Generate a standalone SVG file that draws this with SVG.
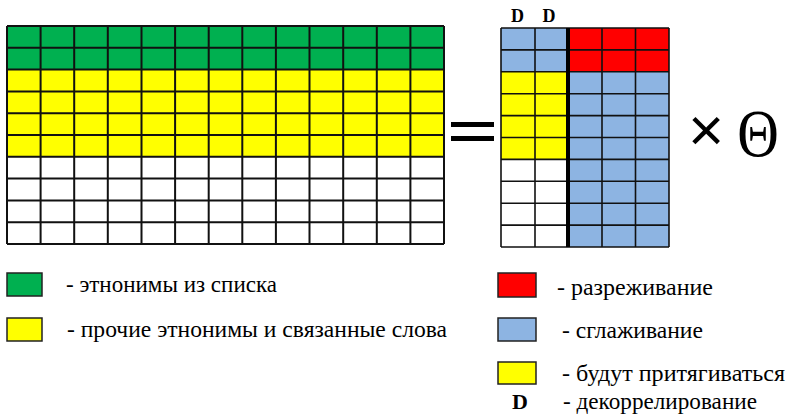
<svg xmlns="http://www.w3.org/2000/svg" width="791" height="418" viewBox="0 0 791 418">
<style>
.grid{fill:none;stroke:#111;stroke-width:2}
.gridR{fill:none;stroke:#111;stroke-width:1.6}
.g{fill:#00B050}.y{fill:#FFFF00}.w{fill:#FFFFFF}.b{fill:#8DB4E2}.r{fill:#FF0000}
.box{stroke:#222;stroke-width:1.5}
.lbl{font-family:"Liberation Serif","Times New Roman",serif;font-size:23px;fill:#000}
.D{font-family:"Liberation Serif","Times New Roman",serif;font-weight:bold;fill:#000}
</style>
<rect width="791" height="418" fill="#fff"/>
<g id="left-matrix">
<rect class="g" x="7" y="26" width="437" height="43.6"/>
<rect class="y" x="7" y="69.6" width="437" height="87.2"/>
<rect class="w" x="7" y="156.8" width="437" height="87.2"/>
<path class="grid" d="M7 26H444M7 47.8H444M7 69.6H444M7 91.4H444M7 113.2H444M7 135H444M7 156.8H444M7 178.6H444M7 200.4H444M7 222.2H444M7 244H444
M7 26V244M40.6 26V244M74.2 26V244M107.8 26V244M141.5 26V244M175.1 26V244M208.7 26V244M242.3 26V244M275.9 26V244M309.5 26V244M343.2 26V244M376.8 26V244M410.4 26V244M444 26V244"/>
</g>
<g id="equals">
<rect x="451" y="122" width="43" height="5" fill="#000"/>
<rect x="451" y="136" width="43" height="5" fill="#000"/>
</g>
<g id="d-labels">
<text class="D" x="517.5" y="22" text-anchor="middle" style="font-size:18px">D</text>
<text class="D" x="549" y="22" text-anchor="middle" style="font-size:18px">D</text>
</g>
<g id="right-matrix">
<rect class="b" x="501" y="28" width="67" height="43.8"/>
<rect class="y" x="501" y="71.8" width="67" height="87.6"/>
<rect class="w" x="501" y="159.4" width="67" height="87.6"/>
<rect class="r" x="568" y="28" width="101" height="43.8"/>
<rect class="b" x="568" y="71.8" width="101" height="175.2"/>
<path class="gridR" d="M501 28H669M501 49.9H669M501 71.8H669M501 93.7H669M501 115.6H669M501 137.5H669M501 159.4H669M501 181.3H669M501 203.2H669M501 225.1H669M501 247H669
M501 28V247M535 28V247M602 28V247M635.5 28V247M669 28V247"/>
<rect x="566" y="28" width="4" height="219" fill="#000"/>
</g>
<g id="times-theta">
<text x="706" y="151" text-anchor="middle" style="font-family:'Liberation Sans',Arial,sans-serif;font-size:62px;fill:#000">×</text>
<text x="0" y="0" text-anchor="middle" transform="translate(758 156) scale(0.86 1)" style="font-family:'Liberation Serif','Times New Roman',serif;font-size:67px;fill:#000">Θ</text>
</g>
<g id="legend-green">
<rect class="g box" x="7" y="273" width="35" height="23"/>
<text class="lbl" x="66" y="292" textLength="211" lengthAdjust="spacingAndGlyphs">- этнонимы из списка</text>
</g>
<g id="legend-yellow">
<rect class="y box" x="7" y="318" width="35" height="23"/>
<text class="lbl" x="67" y="337" textLength="380" lengthAdjust="spacingAndGlyphs">- прочие этнонимы и связанные слова</text>
</g>
<g id="legend-red">
<rect class="r box" x="498" y="273" width="38" height="24"/>
<text class="lbl" x="557" y="295" textLength="156" lengthAdjust="spacingAndGlyphs">- разреживание</text>
</g>
<g id="legend-blue">
<rect class="b box" x="498" y="318" width="38" height="23"/>
<text class="lbl" x="562" y="338" textLength="141" lengthAdjust="spacingAndGlyphs">- сглаживание</text>
</g>
<g id="legend-attract">
<rect class="y box" x="498" y="362" width="38" height="22"/>
<text class="lbl" x="562" y="381" textLength="223" lengthAdjust="spacingAndGlyphs">- будут притягиваться</text>
</g>
<g id="legend-decor">
<text class="D" x="520" y="409" text-anchor="middle" style="font-size:22px">D</text>
<text class="lbl" x="563" y="409" textLength="194" lengthAdjust="spacingAndGlyphs">- декоррелирование</text>
</g>
</svg>
